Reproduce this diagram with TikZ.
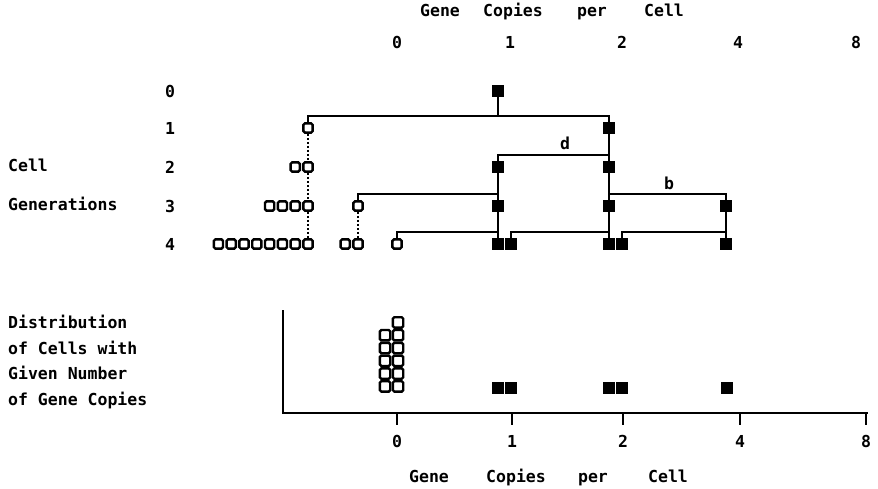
\documentclass[tikz,border=0pt]{standalone}
\usepackage{fontspec}
\newfontfamily\dotfont{DejaVu Sans Mono}

\tikzset{
  lbl/.style={font=\dotfont\bfseries\fontsize{16.5}{19}\selectfont, inner sep=0pt},
  opencell/.style={draw, line width=2.4pt, fill=white, rounded corners=1.5pt, minimum size=9.2pt, inner sep=0pt},
  fullcell/.style={draw, line width=0.8pt, fill=black, minimum size=10.5pt, inner sep=0pt},
  link/.style={line width=2pt},
  dotlink/.style={line width=2pt, dotted},
}

\begin{document}
\begin{tikzpicture}[x=1pt, y=-1pt]
\useasboundingbox (0,0) rectangle (878,489);

% top scale
\node[lbl, anchor=base] (tgene) at (440,17) {Gene};
\node[lbl, anchor=base] (tcopies) at (513,17) {Copies};
\node[lbl, anchor=base] (tper) at (592,17) {per};
\node[lbl, anchor=base] (tcell) at (664,17) {Cell};
\foreach \v/\x in {0/397,1/510,2/622,4/738,8/856} {
    \node[lbl] (top\v) at (\x,42) {\v};
}

% generation labels
\foreach \g/\y in {0/91,1/128,2/167,3/206,4/244} {
    \node[lbl] (gen\g) at (170,\y) {\g};
}
\node[lbl, anchor=base west] (celllbl) at (8,172) {Cell};
\node[lbl, anchor=base west] (genlbl) at (8,211) {Generations};

% generation 0
\node[fullcell] (g0) at (498,91) {};

% generation 1
\node[opencell] (o1) at (308,128) {};
\node[fullcell] (g1) at (609,128) {};
\coordinate (j0) at (498,116);
\draw[link] (g0) -- (j0);
\draw[link] (o1) |- (j0) -| (g1);

% generation 2
\foreach \i in {0,1} {
    \node[opencell] (o2-\i) at ({308-12.8*\i},167) {};
}
\node[fullcell] (g2a) at (498,167) {};
\node[fullcell] (g2b) at (609,167) {};
\coordinate (j1) at (609,155);
\draw[link] (g1) -- (g2b);
\draw[link] (g2a) |- (j1);
\draw[dotlink] (o1) -- (o2-0);
\node[lbl] (d) at (565,143) {d};

% generation 3
\foreach \i in {0,...,3} {
    \node[opencell] (o3-\i) at ({308-12.8*\i},206) {};
}
\node[opencell] (o3x) at (358,206) {};
\node[fullcell] (g3a) at (498,206) {};
\node[fullcell] (g3b) at (609,206) {};
\node[fullcell] (g3c) at (726,206) {};
\coordinate (j2) at (498,194);
\coordinate (j3) at (609,194);
\draw[link] (g2a) -- (g3a);
\draw[link] (o3x) |- (j2);
\draw[link] (g2b) -- (g3b);
\draw[link] (g3c) |- (j3);
\draw[dotlink] (o2-0) -- (o3-0);
\node[lbl] (b) at (669,183) {b};

% generation 4
\foreach \i in {0,...,7} {
    \node[opencell] (o4-\i) at ({308-12.8*\i},244) {};
}
\node[opencell] (o4x) at (358,244) {};
\node[opencell] (o4y) at (345.2,244) {};
\node[opencell] (o4z) at (397,244) {};
\node[fullcell] (g4a) at (498,244) {};
\node[fullcell] (g4b) at (511,244) {};
\node[fullcell] (g4c) at (609,244) {};
\node[fullcell] (g4d) at (622,244) {};
\node[fullcell] (g4e) at (726,244) {};
\coordinate (j4) at (498,232);
\coordinate (j5) at (609,232);
\coordinate (j6) at (726,232);
\draw[link] (g3a) -- (g4a);
\draw[link] (o4z) |- (j4);
\draw[link] (g4b) |- (j5);
\draw[link] (g3b) -- (g4c);
\draw[link] (g4d) |- (j6);
\draw[link] (g3c) -- (g4e);
\draw[dotlink] (o3-0) -- (o4-0);
\draw[dotlink] (o3x) -- (o4x);

% distribution
\node[lbl, anchor=west, align=left, font=\dotfont\bfseries\fontsize{16.5}{25.6}\selectfont] (distlbl) at (8,362)
    {Distribution\\of Cells with\\Given Number\\of Gene Copies};

\coordinate (ytop) at (283,310);
\coordinate (origin) at (283,413);
\coordinate (xend) at (868,413);
\draw[link] (ytop) -- (origin) -- (xend);
\foreach \v/\x in {0/397,1/512,2/623,4/740,8/866} {
    \draw[line width=1.6pt] (\x,413) -- (\x,425);
    \node[lbl] (bot\v) at (\x,441) {\v};
}

\foreach \k in {0,...,4} {
    \node[opencell, minimum size=10.4pt] (h0-\k) at (385,{386.4-12.8*\k}) {};
}
\foreach \k in {0,...,5} {
    \node[opencell, minimum size=10.4pt] (h1-\k) at (398,{386.4-12.8*\k}) {};
}
\foreach \x in {498,511,609,622,727} {
    \node[fullcell] (h-\x) at (\x,388) {};
}

% bottom scale
\node[lbl, anchor=base] (bgene) at (429,482) {Gene};
\node[lbl, anchor=base] (bcopies) at (516,482) {Copies};
\node[lbl, anchor=base] (bper) at (593,482) {per};
\node[lbl, anchor=base] (bcell) at (668,482) {Cell};

\end{tikzpicture}
\end{document}
